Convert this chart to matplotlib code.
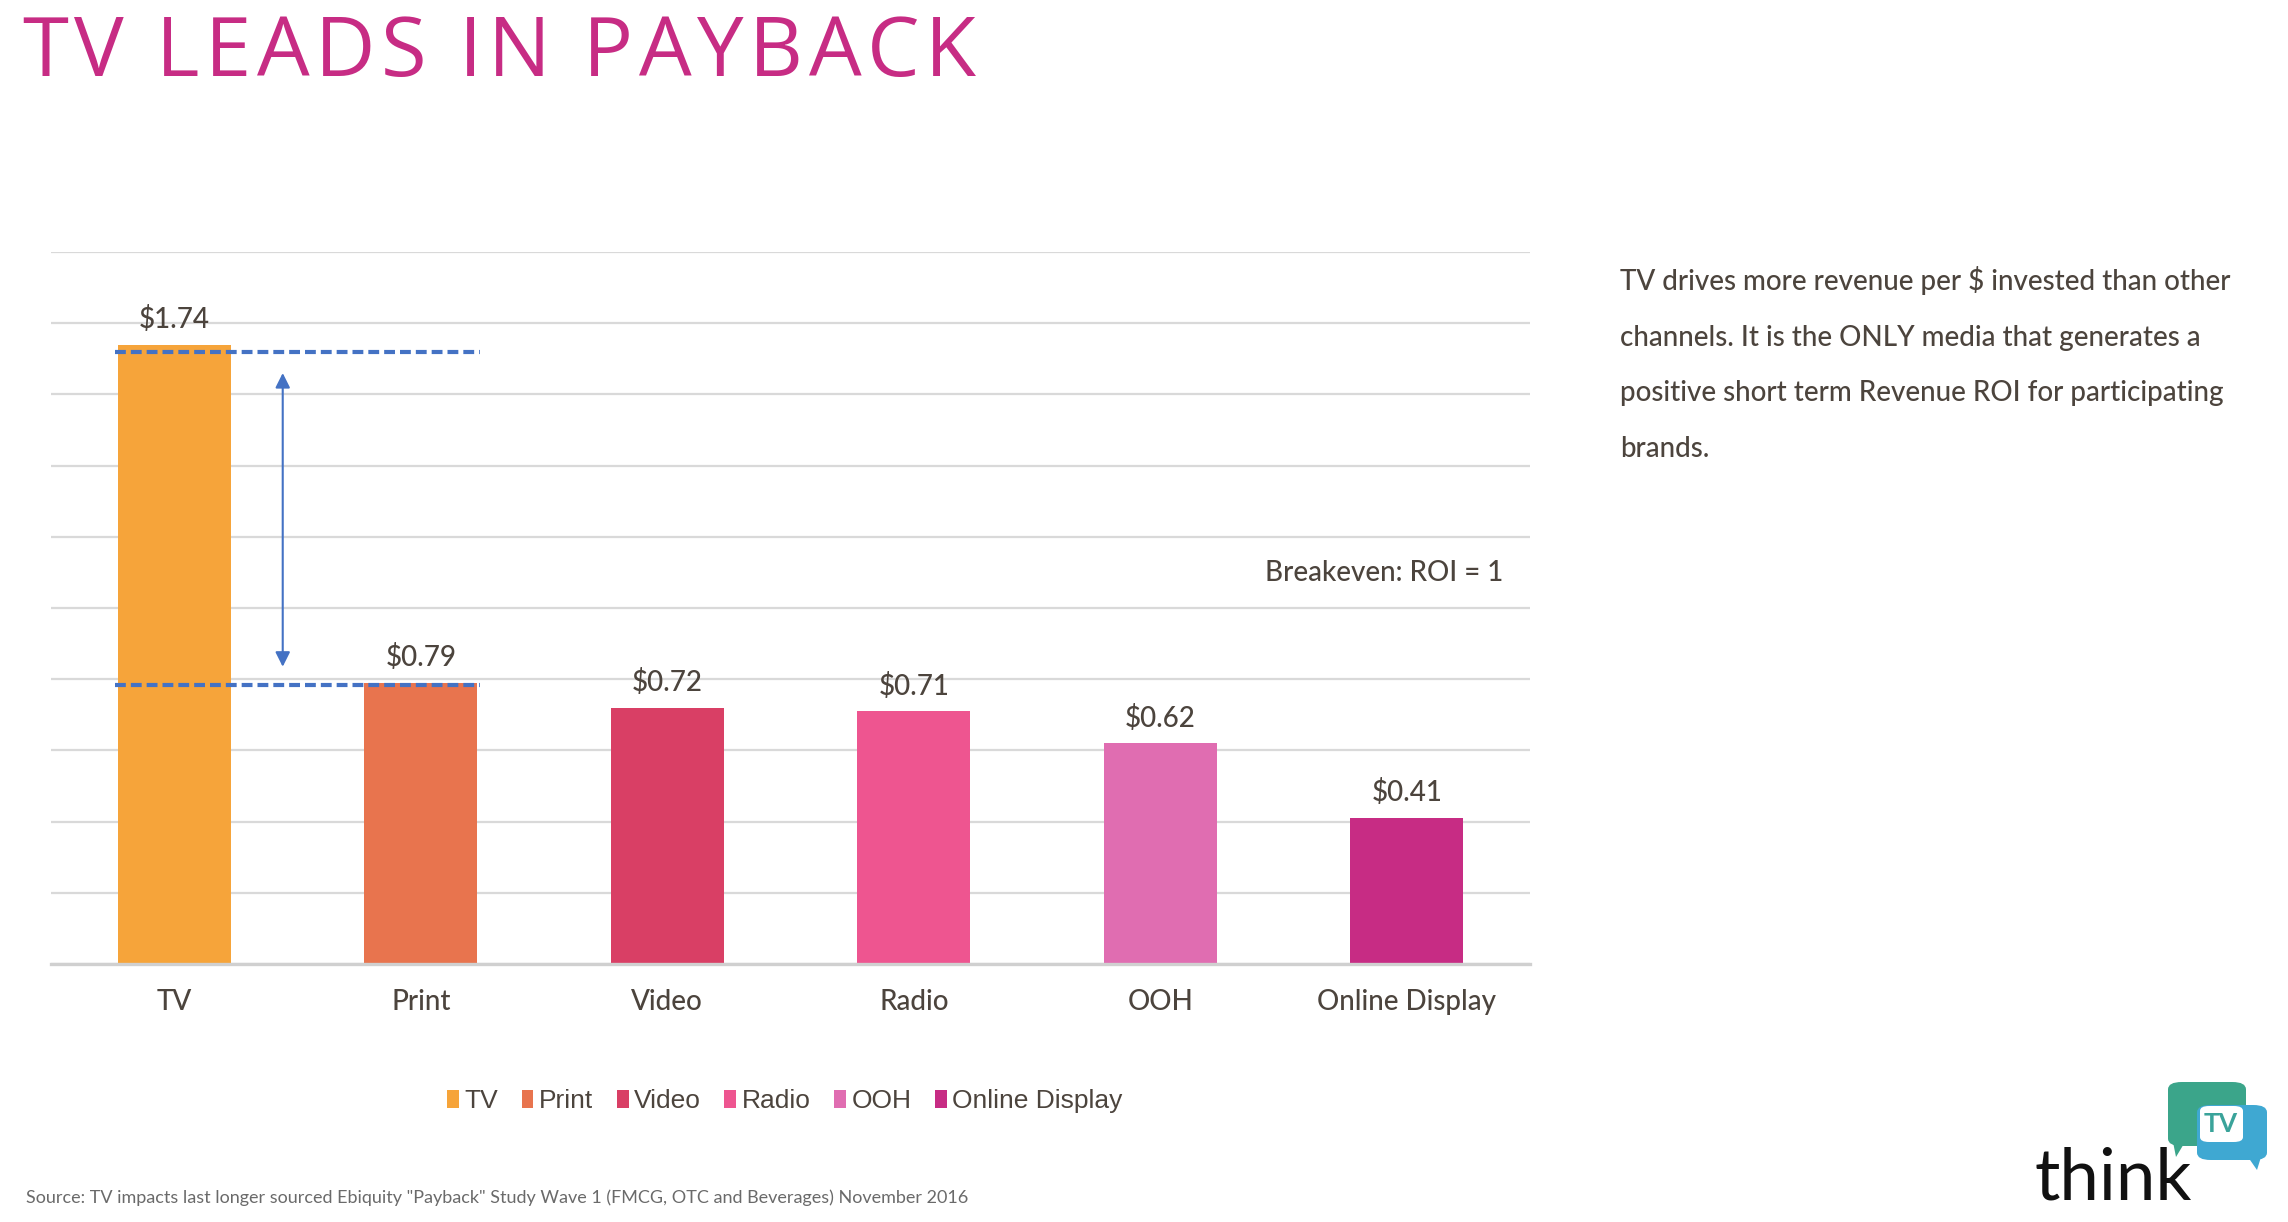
import matplotlib
matplotlib.use("Agg")
from matplotlib import pyplot as plt
from matplotlib.patches import Patch, FancyBboxPatch, Polygon

# Data
# ==========================================================================
channels = ["TV", "Print", "Video", "Radio", "OOH", "Online Display"]
roi = [1.74, 0.79, 0.72, 0.71, 0.62, 0.41]
value_labels = ["$1.74", "$0.79", "$0.72", "$0.71", "$0.62", "$0.41"]
bar_colors = ["#F6A43A", "#E8744E", "#D93F65", "#EE5590", "#E06DB1", "#C72C84"]

yticks = [0.0, 0.2, 0.4, 0.6, 0.8, 1.0, 1.2, 1.4, 1.6, 1.8, 2.0]
gap_lines = [1.72, 0.785]          # dashed guides: TV level and Print level
gap_arrow = [0.835, 1.66]          # double headed arrow span

title = "TV LEADS IN PAYBACK"
note_lines = [
    "TV drives more revenue per $ invested than other",
    "channels. It is the ONLY media that generates a",
    "positive short term Revenue ROI for participating",
    "brands.",
]
source = ('Source: TV impacts last longer sourced Ebiquity "Payback" Study Wave 1 '
          '(FMCG, OTC and Beverages) November 2016')

text_color = "#4c443d"
guide_color = "#4472C4"
W, H = 2288, 1222

# Figure
# ==========================================================================
plt.rcParams['font.family'] = ['Lato', 'DejaVu Sans']
fig = plt.figure(figsize=(22.88, 12.22), dpi=100)
ax = fig.add_axes([0.0223, 0.2111, 0.6464, 0.5827])

x = list(range(len(channels)))
ax.bar(x, roi, width=0.46, color=bar_colors, zorder=3)

for xi, v, lab in zip(x, roi, value_labels):
    ax.annotate(lab, (xi, v), xytext=(0, 12), textcoords="offset points",
                ha="center", va="baseline", fontsize=20, color=text_color,
                fontweight="medium")

ax.set_xlim(-0.5, 5.5)
ax.set_ylim(0, 2.0)
ax.set_yticks(yticks)
ax.set_yticklabels([])
ax.tick_params(axis="y", length=0)
ax.set_xticks(x)
ax.set_xticklabels(channels, fontsize=20, color=text_color, fontweight="medium")
ax.tick_params(axis="x", length=0, pad=18)
ax.grid(axis="y", color="#D9D9D9", linewidth=1.6, zorder=0)
ax.set_axisbelow(True)
for side in ["top", "right", "left"]:
    ax.spines[side].set_visible(False)
ax.spines["bottom"].set_color("#D0D0D0")
ax.spines["bottom"].set_linewidth(2.4)
ax.spines["bottom"].set_zorder(4)

# gap guides
ax.hlines(gap_lines, -0.24, 1.24, colors=guide_color, linewidth=3,
          linestyles=[(0, (2.6, 1.2))], zorder=5)
ax.annotate("", xy=(0.44, gap_arrow[0]), xytext=(0.44, gap_arrow[1]),
            arrowprops=dict(arrowstyle="<|-|>", color=guide_color, lw=1.5,
                            mutation_scale=22, shrinkA=0, shrinkB=0), zorder=5)

ax.text(5.39, 1.075, "Breakeven: ROI = 1", ha="right", va="baseline",
        fontsize=20, color=text_color, fontweight="medium")

# legend
handles = [Patch(facecolor=c, edgecolor="none", label=n) for c, n in zip(bar_colors, channels)]
fig.legend(handles=handles, loc="center", bbox_to_anchor=(0.343, 0.099), ncol=6,
           frameon=False, handlelength=0.45, handleheight=0.7, handletextpad=0.2,
           columnspacing=0.9,
           prop={"family": ["Liberation Sans Narrow", "Liberation Sans"], "size": 19},
           labelcolor=text_color)

# title, drawn with letter spacing (matplotlib has no tracking option)
renderer = fig.canvas.get_renderer()
cursor = 22.0
tracking = 5.5
for ch in title:
    t = fig.text(cursor / W, 1 - 76 / H, ch, fontsize=60, color="#C72C84",
                 family=["Open Sans", "DejaVu Sans"], fontweight="normal",
                 va="baseline", ha="left")
    if ch == " ":
        adv = 60 * 100 / 72 * 0.26
    else:
        adv = t.get_window_extent(renderer).width
    cursor += adv + tracking

for i, line in enumerate(note_lines):
    fig.text(1620 / W, 1 - (290 + i * 55.7) / H, line, fontsize=20,
             color=text_color, va="baseline", ha="left", fontweight="medium")

fig.text(26 / W, 1 - 1203 / H, source, fontsize=13, color="#6a6a6a",
         va="baseline", ha="left")

# thinkTV logo
fig.text(2034 / W, 1 - 1199 / H, "think", fontsize=51, color="#111111",
         va="baseline", ha="left")
green = FancyBboxPatch((2168 / W, 1 - 1146 / H), 78 / W, 64 / H,
                       boxstyle="round,pad=0,rounding_size=0.006",
                       transform=fig.transFigure, facecolor="#3BA58A", edgecolor="none")
blue = FancyBboxPatch((2197 / W, 1 - 1160 / H), 70 / W, 55 / H,
                      boxstyle="round,pad=0,rounding_size=0.006",
                      transform=fig.transFigure, facecolor="#3FA8D2", edgecolor="none")
inner = FancyBboxPatch((2200 / W, 1 - 1142 / H), 43 / W, 36 / H,
                       boxstyle="round,pad=0,rounding_size=0.004",
                       transform=fig.transFigure, facecolor="white", edgecolor="none")
tail_g = Polygon([(2173 / W, 1 - 1142 / H), (2185 / W, 1 - 1142 / H), (2176 / W, 1 - 1157 / H)],
                 closed=True, transform=fig.transFigure, facecolor="#3BA58A", edgecolor="none")
tail_b = Polygon([(2248 / W, 1 - 1157 / H), (2261 / W, 1 - 1157 / H), (2257 / W, 1 - 1170 / H)],
                 closed=True, transform=fig.transFigure, facecolor="#3FA8D2", edgecolor="none")
for p in [tail_g, tail_b, green, blue, inner]:
    fig.add_artist(p)
fig.text(2221 / W, 1 - 1124 / H, "TV", fontsize=19, fontweight="bold", color="#3AA39A",
         ha="center", va="center")

fig.savefig("out.png", dpi=100)
